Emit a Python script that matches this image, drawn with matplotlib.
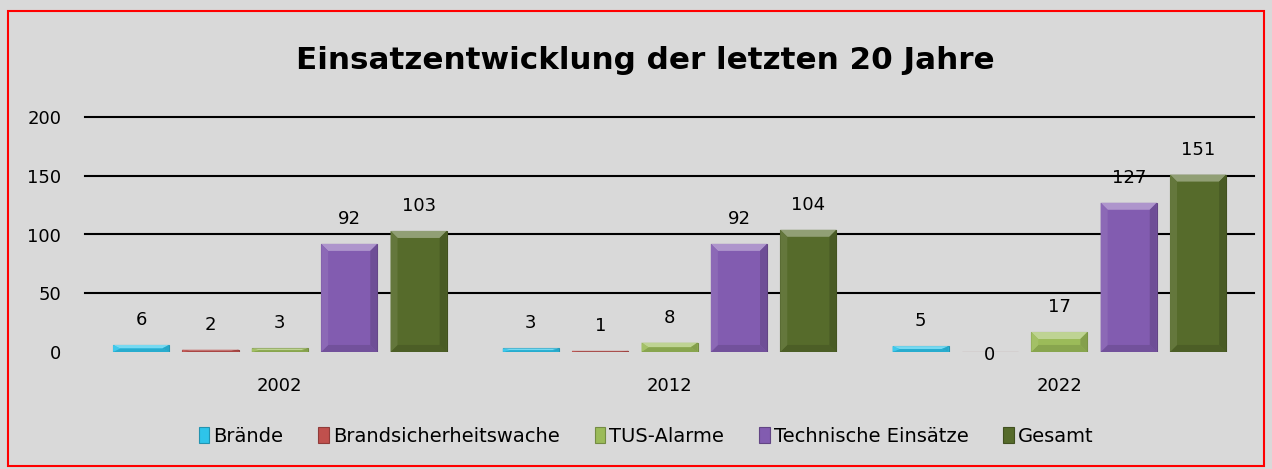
import matplotlib.pyplot as plt
from matplotlib.patches import Polygon, Rectangle
import matplotlib.colors as mcolors
import numpy as np

# Einsatzzahlen je Jahr
years = ['2002', '2012', '2022']
series = ['Brände', 'Brandsicherheitswache', 'TUS-Alarme', 'Technische Einsätze', 'Gesamt']
values = {
    'Brände': [6, 3, 5],
    'Brandsicherheitswache': [2, 1, 0],
    'TUS-Alarme': [3, 8, 17],
    'Technische Einsätze': [92, 92, 127],
    'Gesamt': [103, 104, 151],
}
colors = ['#2ec4ea', '#c0504d', '#9bbb59', '#825cb0', '#566b2b']

plt.rcParams['font.family'] = ['DejaVu Sans']
bg = '#d9d9d9'

fig = plt.figure(figsize=(12.72, 4.69), dpi=100, facecolor=bg)
ax = fig.add_axes([0.0668, 0.2495, 0.9192, 0.501])
ax.set_facecolor(bg)

x = np.arange(len(years))
step = 0.178
width = 0.144
ylim = 200


def shade(c, f):
    r, g, b = mcolors.to_rgb(c)
    if f > 0:
        return (r + (1 - r) * f, g + (1 - g) * f, b + (1 - b) * f)
    return (r * (1 + f), g * (1 + f), b * (1 + f))


# bevel size in data units (about 7 px)
bx = 7 / 390
by = 7 * ylim / 235

for i, name in enumerate(series):
    pos = x + (i - 2) * step
    bars = ax.bar(pos, values[name], width, color=colors[i], label=name,
                  edgecolor=shade(colors[i], -0.25), linewidth=0.8, zorder=3)
    for rect, v in zip(bars, values[name]):
        x0, w, h = rect.get_x(), rect.get_width(), rect.get_height()
        if h > 0:
            d = min(by, h / 2)
            ax.add_patch(Polygon([(x0, h), (x0 + w, h), (x0 + w - bx, h - d), (x0 + bx, h - d)],
                                 closed=True, color=shade(colors[i], 0.35), lw=0, zorder=4))
            ax.add_patch(Polygon([(x0, 0), (x0 + w, 0), (x0 + w - bx, d), (x0 + bx, d)],
                                 closed=True, color=shade(colors[i], -0.12), lw=0, zorder=4))
            ax.add_patch(Polygon([(x0, 0), (x0 + bx, d), (x0 + bx, h - d), (x0, h)],
                                 closed=True, color=shade(colors[i], 0.08), lw=0, zorder=4))
            ax.add_patch(Polygon([(x0 + w, 0), (x0 + w - bx, d), (x0 + w - bx, h - d), (x0 + w, h)],
                                 closed=True, color=shade(colors[i], -0.15), lw=0, zorder=4))
            ax.annotate(str(v), (x0 + w / 2, h), xytext=(0, 18), textcoords='offset points',
                        ha='center', va='center', fontsize=13, zorder=5)
        else:
            ax.annotate(str(v), (x0 + w / 2, 0), xytext=(0, -2), textcoords='offset points',
                        ha='center', va='center', fontsize=13, zorder=5)

ax.set_xlim(-0.5, len(years) - 0.5)
ax.set_ylim(0, ylim)
ax.set_yticks([0, 50, 100, 150, 200])
ax.set_xticks(x)
ax.set_xticklabels(years)
ax.tick_params(axis='both', length=0, labelsize=13)
ax.tick_params(axis='y', pad=17)
ax.tick_params(axis='x', pad=18)
ax.yaxis.grid(True, color='black', linewidth=1.5, zorder=0)
for gl in ax.get_ygridlines():
    gl.set_clip_on(False)
ax.get_ygridlines()[0].set_visible(False)
ax.set_axisbelow(True)
for s in ax.spines.values():
    s.set_visible(False)

fig.text(0.507, 0.872, 'Einsatzentwicklung der letzten 20 Jahre', ha='center', va='center',
         fontsize=22.3, fontweight='bold')

fig.legend(loc='center', bbox_to_anchor=(0.508, 0.07), ncol=5, frameon=False, fontsize=14,
           handlelength=0.55, handleheight=0.9, handletextpad=0.2, columnspacing=1.8)

fig.patches.append(Rectangle((0.0063, 0.006), 0.9874, 0.971, transform=fig.transFigure,
                             fill=False, edgecolor='red', linewidth=1.5))

fig.savefig('out.png', dpi=100, facecolor=bg)
